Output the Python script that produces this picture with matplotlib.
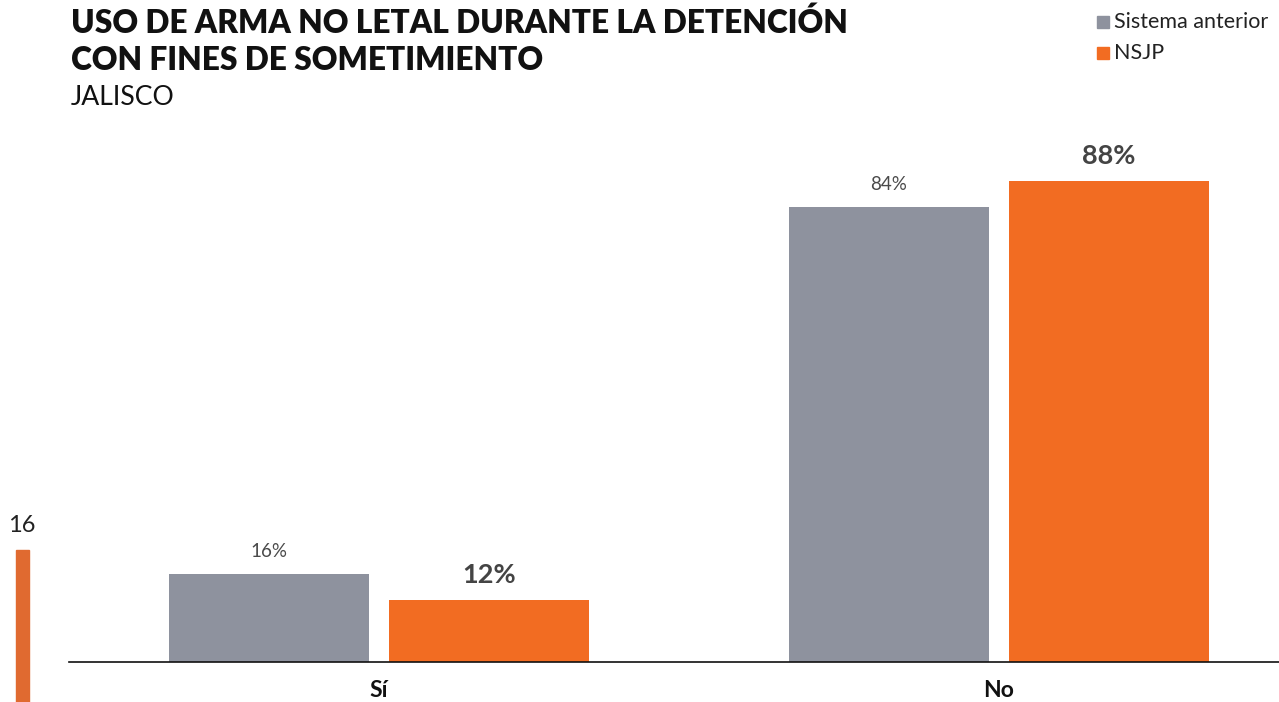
import matplotlib
matplotlib.use("Agg")
import matplotlib.pyplot as plt
from matplotlib.patches import Rectangle
import numpy as np

plt.rcParams['font.family'] = ['Lato', 'DejaVu Sans']

categories = ["Sí", "No"]
series_names = ["Sistema anterior", "NSJP"]
sistema_anterior = [16.1, 83.4]
nsjp = [11.4, 88.2]
labels_anterior = ["16%", "84%"]
labels_nsjp = ["12%", "88%"]
colors = ["#8E929E", "#F26C22"]

W, H = 1279, 702
fig = plt.figure(figsize=(W / 100, H / 100), dpi=100)

# axes: starts at x=69 px, 620 px per category (extends past right edge), baseline y=662
ax_left = 69 / W
ax_bottom = (H - 662) / H
ax_width = 1240 / W
ax_height = 545.4 / H
ax = fig.add_axes([ax_left, ax_bottom, ax_width, ax_height])

x = np.arange(len(categories))
bw = 200 / 620
off = 110 / 620
ax.bar(x - off, sistema_anterior, width=bw, color=colors[0])
ax.bar(x + off, nsjp, width=bw, color=colors[1])

for xi, v, lab in zip(x, sistema_anterior, labels_anterior):
    ax.annotate(lab, (xi - off, v), xytext=(0, 10), textcoords="offset points",
                ha="center", va="bottom", fontsize=13.5, color="#4a4a4a")
for xi, v, lab in zip(x, nsjp, labels_nsjp):
    ax.annotate(lab, (xi + off, v), xytext=(0, 9), textcoords="offset points",
                ha="center", va="bottom", fontsize=19.5, fontweight="bold", color="#444444")

ax.set_xlim(-0.5, 1.5)
ax.set_ylim(0, 100)
for s in ["top", "right", "left"]:
    ax.spines[s].set_visible(False)
ax.spines["bottom"].set_color("#111111")
ax.spines["bottom"].set_linewidth(1.2)
ax.set_yticks([])
ax.set_xticks(x)
ax.set_xticklabels(categories, fontsize=16.5, fontweight="bold", color="#111111")
ax.tick_params(axis="x", length=0, pad=13)
ax.patch.set_alpha(0)

# titles
fig.text(71 / W, 1 - 33 / H, "USO DE ARMA NO LETAL DURANTE LA DETENCIÓN",
         fontsize=22.8, fontweight="heavy", color="#111111", va="baseline", ha="left")
fig.text(71 / W, 1 - 70 / H, "CON FINES DE SOMETIMIENTO",
         fontsize=22.8, fontweight="heavy", color="#111111", va="baseline", ha="left")
fig.text(71 / W, 1 - 105 / H, "JALISCO",
         fontsize=19.2, color="#111111", va="baseline", ha="left")

# legend
for i, (name, c) in enumerate(zip(series_names, colors)):
    yc = 22 + i * 31
    fig.patches.append(Rectangle((1097 / W, 1 - (yc + 6) / H), 12 / W, 12 / H,
                                 transform=fig.transFigure, color=c))
    fig.text(1114 / W, 1 - yc / H, name, fontsize=15.5, color="#222222",
             va="center", ha="left")

# stray elements at the left
fig.text(22 / W, 1 - 525 / H, "16", fontsize=17, color="#222222", va="center", ha="center")
fig.patches.append(Rectangle((16 / W, 0), 13 / W, (H - 550) / H,
                             transform=fig.transFigure, color="#E06A30"))

fig.savefig("out.png", dpi=100)
